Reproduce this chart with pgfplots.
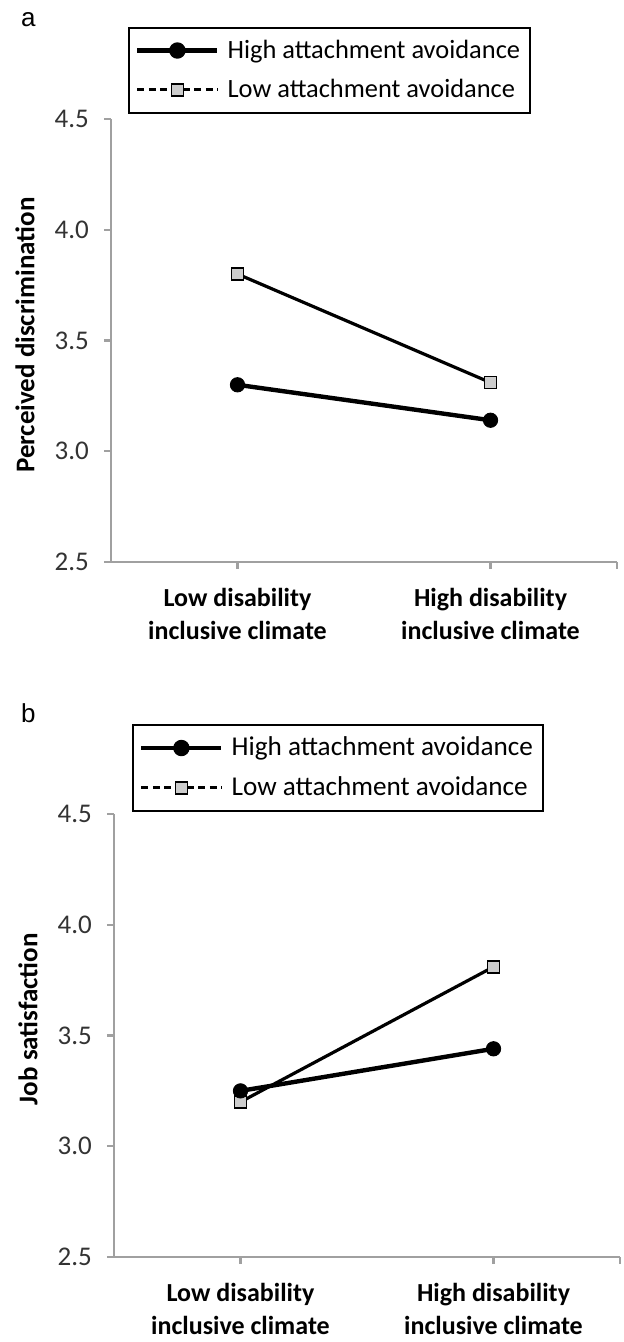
\documentclass[border=0pt]{standalone}
\usepackage{fontspec}
\setmainfont{Carlito}
\newfontfamily\arial{Liberation Sans}
\usepackage{pgfplots}
\pgfplotsset{compat=1.18}

\definecolor{axgray}{RGB}{160,160,160}
\definecolor{sqfill}{RGB}{205,205,205}

\pgfplotsset{
  inter/.style={
    scale only axis, width=253pt, height=221.5pt,
    xmin=-0.5, xmax=1.5, ymin=2.5, ymax=4.5,
    axis x line*=bottom, axis y line*=left,
    axis line style={axgray, line width=1.2pt, -},
    tick style={axgray, line width=1.2pt},
    major tick length=3.5pt, tick align=outside,
    xtick={0,1},
    xticklabels={{Low disability\\inclusive climate},{High disability\\inclusive climate}},
    extra x ticks={1.5}, extra x tick labels={},
    ytick={2.5,3,3.5,4,4.5},
    /pgf/number format/.cd, fixed, fixed zerofill, precision=1, assume math mode=true,
    /pgfplots/.cd,
    yticklabel style={font=\fontsize{13.5}{15}\selectfont, text=black!80, xshift=-4pt},
    xticklabel style={align=center, font=\bfseries\fontsize{13}{16.5}\selectfont, yshift=-6pt},
    ylabel style={font=\bfseries\fontsize{13.5}{15}\selectfont, anchor=center},
    legend style={anchor=north west, draw=black, line width=1pt,
      font=\fontsize{13.2}{15}\selectfont, cells={anchor=west},
      row sep=5pt, column sep=2pt, inner xsep=3pt, inner ysep=4pt},
    legend cell align=left,
  },
  highleg/.style={legend image code/.code={
    \draw[black, line width=2.2pt] (0pt,0pt) -- (40pt,0pt);
    \fill[black] (20pt,0pt) circle (3.6pt);}},
  lowleg/.style={legend image code/.code={
    \draw[black, line width=1.5pt, dash pattern=on 3.5pt off 2.2pt] (0pt,0pt) -- (40pt,0pt);
    \draw[black, line width=0.9pt, fill=sqfill] (17pt,-3pt) rectangle (23pt,3pt);}},
}

\begin{document}
\begin{tikzpicture}
\useasboundingbox (0,0) rectangle (312pt,-671pt);

% panel a
\node[anchor=base west, font=\arial\fontsize{13}{15}\selectfont] at (7pt,-13.5pt) {a};
\begin{axis}[inter, at={(55.5pt,-281pt)}, anchor=south west,
  ylabel={Perceived discrimination},
  ylabel style={at={(axis description cs:-0.17,0.512)}},
  legend style={at={(axis description cs:0.034,1.208)}}]
  \addplot[black, line width=1.6pt, mark=square*, mark size=3pt,
    mark options={fill=sqfill, line width=0.9pt}, forget plot]
    coordinates {(0,3.80) (1,3.31)};
  \addplot[black, line width=2.2pt, mark=*, mark size=3.6pt,
    mark options={line width=0.4pt}, forget plot]
    coordinates {(0,3.30) (1,3.14)};
  \addlegendimage{highleg}
  \addlegendentry{High attachment avoidance}
  \addlegendimage{lowleg}
  \addlegendentry{Low attachment avoidance}
\end{axis}

% panel b
\node[anchor=base west, font=\arial\fontsize{13}{15}\selectfont] at (7pt,-361pt) {b};
\begin{axis}[inter, at={(57pt,-628.5pt)}, anchor=south west,
  ylabel={Job satisfaction},
  ylabel style={at={(axis description cs:-0.17,0.537)}},
  legend style={at={(axis description cs:0.036,1.203)}, font=\fontsize{13.6}{15.5}\selectfont}]
  \addplot[black, line width=1.6pt, mark=square*, mark size=3pt,
    mark options={fill=sqfill, line width=0.9pt}, forget plot]
    coordinates {(0,3.20) (1,3.81)};
  \addplot[black, line width=2.2pt, mark=*, mark size=3.6pt,
    mark options={line width=0.4pt}, forget plot]
    coordinates {(0,3.25) (1,3.44)};
  \addlegendimage{highleg}
  \addlegendentry{High attachment avoidance}
  \addlegendimage{lowleg}
  \addlegendentry{Low attachment avoidance}
\end{axis}
\end{tikzpicture}
\end{document}
